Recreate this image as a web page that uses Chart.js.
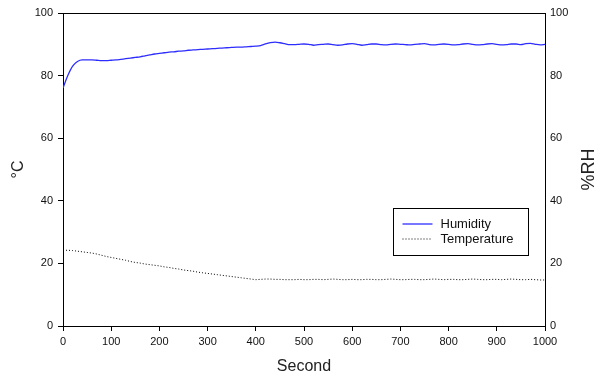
<!DOCTYPE html>
<html>
<head>
<meta charset="utf-8">
<script src="https://cdn.jsdelivr.net/npm/chart.js@4.4.1/dist/chart.umd.min.js"></script>
<style>
    html, body { margin: 0; padding: 0; background: #fff; }
    #wrap { width: 597px; height: 378px; }
</style>
</head>
<body>
<div id="wrap"><canvas id="chart" width="597" height="378"></canvas></div>
<script>
const seconds = [
    0, 10, 20, 30, 40, 50, 60, 70, 80, 90,
    100, 110, 120, 130, 140, 150, 160, 170, 180, 190,
    200, 210, 220, 230, 240, 250, 260, 270, 280, 290,
    300, 310, 320, 330, 340, 350, 360, 370, 380, 390,
    400, 410, 420, 430, 440, 450, 460, 470, 480, 490,
    500, 510, 520, 530, 540, 550, 560, 570, 580, 590,
    600, 610, 620, 630, 640, 650, 660, 670, 680, 690,
    700, 710, 720, 730, 740, 750, 760, 770, 780, 790,
    800, 810, 820, 830, 840, 850, 860, 870, 880, 890,
    900, 910, 920, 930, 940, 950, 960, 970, 980, 990,
    1000
];

// %RH
const humidity = [
    76.0, 80.0, 83.0, 84.5, 85.0, 85.0, 85.0, 84.9, 84.8, 84.8,
    84.9, 85.0, 85.2, 85.4, 85.6, 85.8, 86.0, 86.3, 86.6, 86.9,
    87.1, 87.3, 87.5, 87.6, 87.8, 87.9, 88.1, 88.2, 88.3, 88.4,
    88.5, 88.6, 88.7, 88.8, 88.9, 89.0, 89.1, 89.1, 89.2, 89.3,
    89.4, 89.6, 90.1, 90.5, 90.7, 90.5, 90.2, 89.9, 89.9, 90.0,
    90.1, 90.0, 89.7, 89.9, 90.0, 90.1, 89.9, 89.7, 89.8, 90.1,
    90.2, 90.0, 89.7, 89.9, 90.1, 90.1, 89.9, 89.8, 90.0, 90.1,
    90.0, 89.9, 89.8, 90.0, 90.1, 90.2, 89.9, 89.8, 90.0, 90.1,
    90.0, 89.8, 89.9, 90.1, 90.2, 90.0, 89.8, 89.9, 90.1, 90.2,
    90.0, 89.8, 89.9, 90.1, 90.1, 89.9, 90.2, 90.3, 90.0, 89.8,
    90.0
];

// degrees C
const temperature = [
    24.2, 24.2, 24.1, 23.9, 23.7, 23.5, 23.3, 23.0, 22.6, 22.2,
    21.9, 21.6, 21.3, 21.0, 20.6, 20.3, 20.1, 19.8, 19.6, 19.4,
    19.2, 18.9, 18.7, 18.4, 18.2, 17.9, 17.7, 17.5, 17.2, 17.0,
    16.8, 16.6, 16.4, 16.2, 16.0, 15.8, 15.6, 15.4, 15.2, 15.0,
    14.8, 14.9, 15.0, 15.0, 14.9, 14.9, 14.8, 14.8, 14.8, 14.9,
    14.8, 14.8, 14.9, 14.9, 14.8, 14.9, 15.0, 14.9, 14.8, 14.8,
    14.9, 14.8, 14.8, 14.9, 14.9, 14.8, 14.8, 14.9, 15.0, 14.9,
    14.8, 14.8, 14.9, 14.9, 14.8, 14.8, 14.9, 15.0, 14.9, 14.8,
    14.9, 14.9, 14.8, 14.8, 14.9, 15.0, 14.9, 14.8, 14.8, 14.9,
    14.9, 14.8, 14.9, 15.0, 14.9, 14.8, 14.8, 14.9, 14.8, 14.7,
    14.7
];

const FONT = "'Liberation Sans', Arial, sans-serif";
const INK = "#111";

const toPoints = (values) => seconds.map((s, i) => ({ x: s, y: values[i] }));

// top frame line, right-hand title and the boxed legend
const extras = {
    id: "extras",
    afterDraw(chart) {
        const ctx = chart.ctx;
        const a = chart.chartArea;
        ctx.save();

        ctx.strokeStyle = "#000";
        ctx.lineWidth = 1;
        ctx.beginPath();
        ctx.moveTo(a.left, a.top + 0.5);
        ctx.lineTo(a.right, a.top + 0.5);
        ctx.stroke();

        ctx.save();
        ctx.translate(589, (a.top + a.bottom) / 2);
        ctx.rotate(-Math.PI / 2);
        ctx.font = "18px " + FONT;
        ctx.fillStyle = "#222";
        ctx.textAlign = "center";
        ctx.textBaseline = "middle";
        ctx.fillText("%RH", 0, 0);
        ctx.restore();

        const bx = 393.5, by = 208.5, bw = 135, bh = 47;
        ctx.fillStyle = "#fff";
        ctx.fillRect(bx, by, bw, bh);
        ctx.strokeStyle = "#000";
        ctx.strokeRect(bx, by, bw, bh);

        ctx.font = "13px " + FONT;
        ctx.textBaseline = "middle";
        chart.data.datasets.forEach((ds, i) => {
            const y = by + 15.5 + i * 15;
            ctx.strokeStyle = ds.borderColor;
            ctx.lineWidth = ds.borderWidth;
            ctx.setLineDash(ds.borderDash || []);
            ctx.beginPath();
            ctx.moveTo(bx + 9, y);
            ctx.lineTo(bx + 39, y);
            ctx.stroke();
            ctx.setLineDash([]);
            ctx.fillStyle = INK;
            ctx.fillText(ds.label, bx + 47, y);
        });

        ctx.restore();
    }
};

new Chart(document.getElementById("chart"), {
    type: "line",
    data: {
        datasets: [{
            label: "Humidity",
            data: toPoints(humidity),
            yAxisID: "yRight",
            borderColor: "#2d2dff",
            borderWidth: 1.3,
            pointRadius: 0,
            cubicInterpolationMode: "monotone",
        }, {
            label: "Temperature",
            data: toPoints(temperature),
            yAxisID: "y",
            borderColor: "#000",
            borderWidth: 1,
            borderDash: [1, 2],
            pointRadius: 0,
        }]
    },
    options: {
        responsive: false,
        animation: false,
        layout: {
            padding: { top: 13, left: 0, right: 0, bottom: 0 }
        },
        plugins: {
            legend: { display: false },
            tooltip: { enabled: false },
        },
        scales: {
            x: {
                type: "linear",
                position: "bottom",
                min: 0,
                max: 1000,
                afterFit: (scale) => { scale.height = 52; },
                ticks: {
                    stepSize: 100,
                    color: INK,
                    font: { family: FONT, size: 11 },
                    padding: 4,
                    maxRotation: 0,
                    callback: (value) => String(value),
                },
                grid: {
                    drawOnChartArea: false,
                    tickLength: 5,
                    tickColor: "#000",
                },
                border: { color: "#000", width: 1 },
                title: {
                    display: true,
                    text: "Second",
                    color: "#222",
                    font: { family: FONT, size: 16 },
                    padding: { top: 4, bottom: 2 },
                },
            },
            y: {
                position: "left",
                min: 0,
                max: 100,
                afterFit: (scale) => { scale.width = 63; },
                ticks: {
                    stepSize: 20,
                    color: INK,
                    font: { family: FONT, size: 11 },
                    padding: 5,
                },
                grid: {
                    drawOnChartArea: false,
                    tickLength: 5,
                    tickColor: "#000",
                },
                border: { color: "#000", width: 1 },
                title: {
                    display: true,
                    text: "°C",
                    color: "#222",
                    font: { family: FONT, size: 16 },
                    padding: { top: 9, bottom: 0 },
                },
            },
            yRight: {
                position: "right",
                min: 0,
                max: 100,
                afterFit: (scale) => { scale.width = 52; },
                ticks: {
                    stepSize: 20,
                    color: INK,
                    font: { family: FONT, size: 11 },
                    padding: 5,
                },
                grid: {
                    drawOnChartArea: false,
                    drawTicks: false,
                },
                border: { color: "#000", width: 1 },
            }
        }
    },
    plugins: [extras]
});
</script>
</body>
</html>
